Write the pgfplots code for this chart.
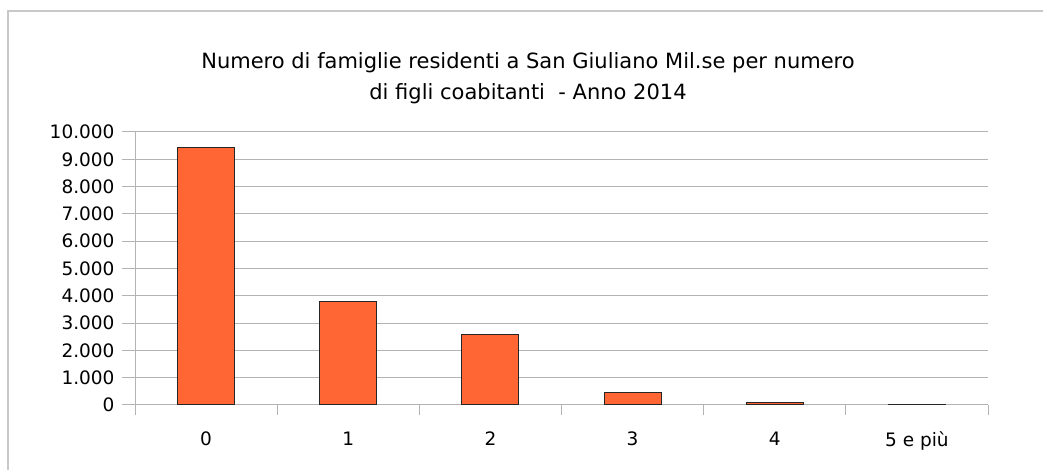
\documentclass[border=0pt]{standalone}
\usepackage{pgfplots}
\pgfplotsset{compat=1.18}
\usepackage{fontspec}
\setmainfont{DejaVu Sans}
\definecolor{barfill}{HTML}{FF6633}
\definecolor{gridc}{HTML}{B3B3B3}
\definecolor{framec}{HTML}{C8C8C8}
\begin{document}
\begin{tikzpicture}[x=1bp,y=1bp]
\path[use as bounding box] (0,0) rectangle (1043,470);
\draw[framec,line width=1.5bp] (8,0) -- (8,459) -- (1043,459);
\node[align=center,font=\fontsize{21bp}{31bp}\selectfont] at (528,392) {Numero di famiglie residenti a San Giuliano Mil.se per numero\\di figli coabitanti \ - Anno 2014};
\begin{axis}[
  at={(135bp,65bp)}, anchor=south west,
  width=853bp, height=273bp, scale only axis,
  xmin=-0.5, xmax=5.5, ymin=0, ymax=10000,
  ybar, bar width=0.4, bar shift=0pt,
  xtick={0,1,2,3,4,5},
  xticklabels={0,1,2,3,4,5 e più},
  minor xtick={-0.5,0.5,1.5,2.5,3.5,4.5,5.5},
  major x tick style={draw=none},
  minor tick length=10bp,
  ytick={0,1000,...,10000},
  major tick length=13bp,
  tick align=outside,
  tick style={gridc, line width=1bp},
  ymajorgrids, grid style={gridc, line width=1bp},
  axis line style={gridc, line width=1bp},
  axis x line*=bottom, axis y line*=left,
  separate axis lines,
  every outer x axis line/.append style={-},
  every outer y axis line/.append style={-},
  ticklabel style={font=\fontsize{18.5bp}{22bp}\selectfont},
  yticklabel style={xshift=-4bp},
  xticklabel style={yshift=-10bp},
  scaled y ticks=false,
  /pgf/number format/.cd, fixed, 1000 sep={.}, assume math mode=true,
]
\addplot[fill=barfill, draw=black!85, line width=1bp] coordinates {
(0,9450) (1,3800) (2,2575) (3,440) (4,90) (5,15)};
\end{axis}
\end{tikzpicture}
\end{document}
